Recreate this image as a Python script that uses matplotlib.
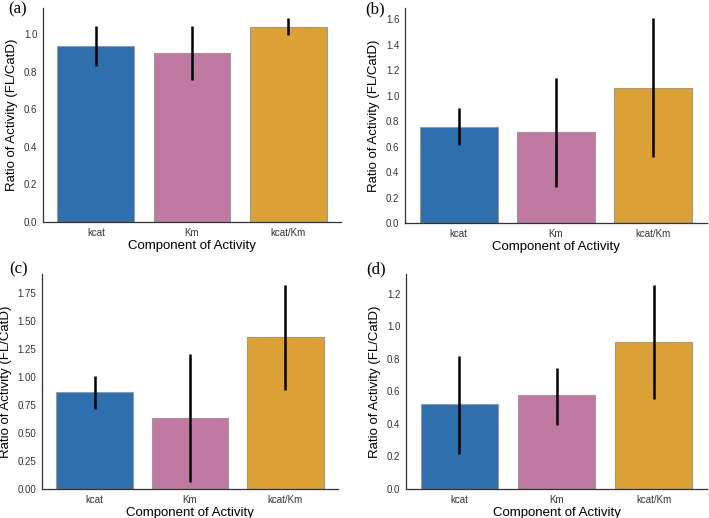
import numpy as np
import matplotlib.pyplot as plt

components = ['kcat', 'Km', 'kcat/Km']
panel_labels = ['(a)', '(b)', '(c)', '(d)']

# bar heights and error-bar ranges (low, high) per panel
means_a = [0.935, 0.900, 1.040]
low_a = [0.830, 0.755, 0.995]
high_a = [1.045, 1.045, 1.085]

means_b = [0.755, 0.715, 1.065]
low_b = [0.610, 0.285, 0.515]
high_b = [0.905, 1.140, 1.610]

means_c = [0.865, 0.635, 1.355]
low_c = [0.710, 0.065, 0.885]
high_c = [1.010, 1.205, 1.825]

means_d = [0.520, 0.575, 0.905]
low_d = [0.215, 0.395, 0.555]
high_d = [0.815, 0.745, 1.255]

colors = ['#2f6fad', '#c07aa1', '#dba136']

panels = [(means_a, low_a, high_a, 1.14, np.arange(0, 1.01, 0.2), '{:.1f}'),
          (means_b, low_b, high_b, 1.69, np.arange(0, 1.61, 0.2), '{:.1f}'),
          (means_c, low_c, high_c, 1.92, np.arange(0, 1.76, 0.25), '{:.2f}'),
          (means_d, low_d, high_d, 1.32, np.arange(0, 1.21, 0.2), '{:.1f}')]

# axes boxes in pixels: left, top, right, bottom
W, H = 709, 518
boxes = [(43, 8, 341, 222), (405, 8, 707, 223),
         (42, 274, 338, 489), (406, 274, 707, 489)]
label_pos = [(8, 9), (365, 9), (9, 269), (366, 269)]

plt.rcParams['font.family'] = 'Liberation Sans'
fig = plt.figure(figsize=(W / 100, H / 100), dpi=100)

for i, (means, lo, hi, ytop, yt, fmt) in enumerate(panels):
    l, t, r, b = boxes[i]
    ax = fig.add_axes([l / W, 1 - b / H, (r - l) / W, (b - t) / H])
    x = np.arange(len(components))
    ax.bar(x, means, width=0.8, color=colors, edgecolor='#999999', linewidth=0.8)
    ax.vlines(x, lo, hi, color='black', linewidth=1.8)
    ax.set_xlim(-0.55, 2.55)
    ax.set_ylim(0, ytop)
    ax.set_yticks(yt)
    ax.set_yticklabels([fmt.format(v) for v in yt])
    ax.set_xticks(x)
    ax.set_xticklabels(components)
    ax.tick_params(length=0, labelsize=7, colors='#333333', pad=4)
    for s in ['top', 'right']:
        ax.spines[s].set_visible(False)
    for s in ['left', 'bottom']:
        ax.spines[s].set_color('#333333')
        ax.spines[s].set_linewidth(0.9)
    ax.set_xlabel('Component of Activity', fontsize=9.5, labelpad=2)
    ax.set_ylabel('Ratio of Activity (FL/CatD)', fontsize=9.5, labelpad=4)
    px, py = label_pos[i]
    fig.text(px / W, 1 - py / H, panel_labels[i], family='Liberation Serif',
             fontsize=12, va='center', ha='left')

fig.savefig('out.png', dpi=100)
